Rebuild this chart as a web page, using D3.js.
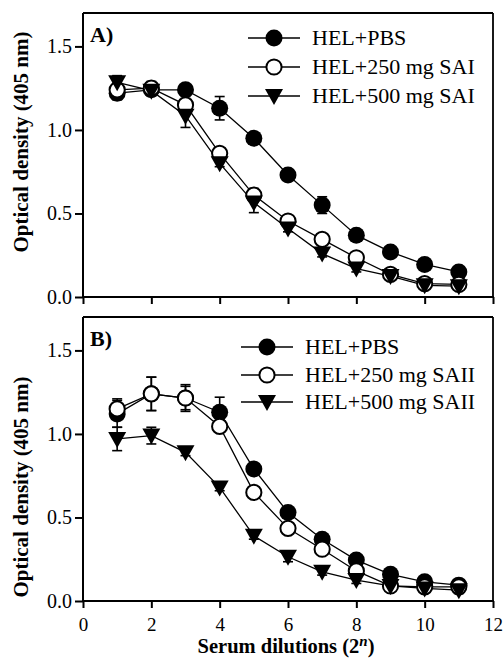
<!DOCTYPE html>
<html><head><meta charset="utf-8">
<script src="https://cdn.jsdelivr.net/npm/d3@7"></script>
<style>body{margin:0;background:#fff}svg{display:block}text{font-family:"Liberation Serif","Times New Roman",serif;fill:#000}</style>
</head><body><svg id="c" width="504" height="667"></svg>
<script>
const dilutions = [1,2,3,4,5,6,7,8,9,10,11];
const xTicks = [0,2,4,6,8,10,12];
const yTicks = [0.0,0.5,1.0,1.5];

const labelsA = ["HEL+PBS","HEL+250 mg SAI","HEL+500 mg SAI"];
const pbsA   = [1.22,1.24,1.24,1.13,0.95,0.73,0.55,0.37,0.27,0.195,0.15];
const sai250 = [1.24,1.25,1.15,0.86,0.61,0.455,0.345,0.235,0.135,0.08,0.075];
const sai500 = [1.285,1.235,1.085,0.80,0.565,0.41,0.26,0.17,0.125,0.07,0.065];
const errPbsA   = [0.04,0.03,0.02,0.07,0.02,0.02,0.05,0.02,0.02,0.02,0.02];
const errSai250 = [0.04,0.04,0.05,0.02,0.04,0.02,0.02,0.02,0.02,0.02,0.02];
const errSai500 = [0.04,0.03,0.07,0.02,0.06,0.02,0.02,0.02,0.02,0.02,0.02];

const labelsB = ["HEL+PBS","HEL+250 mg SAII","HEL+500 mg SAII"];
const pbsB    = [1.12,1.24,1.215,1.13,0.79,0.53,0.37,0.245,0.16,0.115,0.095];
const saii250 = [1.15,1.24,1.215,1.045,0.65,0.435,0.31,0.18,0.09,0.085,0.085];
const saii500 = [0.97,0.99,0.89,0.68,0.39,0.265,0.175,0.125,0.09,0.075,0.065];
const errPbsB    = [0.08,0.10,0.07,0.09,0.02,0.03,0.02,0.02,0.02,0.02,0.02];
const errSaii250 = [0.06,0.10,0.08,0.03,0.03,0.02,0.02,0.02,0.02,0.02,0.02];
const errSaii500 = [0.07,0.05,0.02,0.02,0.02,0.03,0.02,0.02,0.02,0.02,0.02];

const svg = d3.select("#c");
const L = 83, R = 493;
const x = d3.scaleLinear().domain([0,12]).range([L,R]);
const FONT = "Liberation Serif";

function panel(top, bottom, tag, labels, series, errs, legX, legY, showX, titleY){
  const y = d3.scaleLinear().domain([0,1.7]).range([bottom, top]);
  const g = svg.append("g");
  g.append("line").attr("x1",L).attr("x2",R).attr("y1",top).attr("y2",top).attr("stroke","#000").attr("stroke-width",1.8);
  g.append("line").attr("x1",R).attr("x2",R).attr("y1",top).attr("y2",bottom).attr("stroke","#000").attr("stroke-width",1.8);
  const ya = g.append("g").attr("transform",`translate(${L},0)`)
    .call(d3.axisLeft(y).tickValues(yTicks).tickFormat(d3.format(".1f")).tickSize(8).tickPadding(3));
  const xa = g.append("g").attr("transform",`translate(0,${bottom})`)
    .call(d3.axisBottom(x).tickValues(xTicks).tickSize(7).tickPadding(9).tickFormat(showX? d3.format("d") : ""));
  [ya,xa].forEach(a=>{
    a.attr("font-family",FONT);
    a.select(".domain").remove();
    a.selectAll(".tick line").attr("stroke-width",2);
  });
  ya.selectAll("text").attr("font-size",20).style("font-family",FONT);
  xa.selectAll("text").attr("font-size",19).attr("dy",null).attr("y",null).attr("transform",null)
    .attr("y",30).style("font-family",FONT);
  g.append("line").attr("x1",L).attr("x2",L).attr("y1",top).attr("y2",bottom+1).attr("stroke","#000").attr("stroke-width",2);
  g.append("line").attr("x1",L-1).attr("x2",R+1).attr("y1",bottom).attr("y2",bottom).attr("stroke","#000").attr("stroke-width",2);

  const line = d3.line().x((d,i)=>x(dilutions[i])).y(d=>y(d));
  const styles = ["fill","open","tri"];
  series.forEach(s=>{
    g.append("path").attr("d",line(s)).attr("fill","none").attr("stroke","#000").attr("stroke-width",1.3);
  });
  series.forEach((s,k)=>{
    s.forEach((v,i)=>{
      const cx = x(dilutions[i]), e = errs[k][i];
      const y1 = y(v+e), y2 = y(v-e);
      g.append("line").attr("x1",cx).attr("x2",cx).attr("y1",y1).attr("y2",y2).attr("stroke","#000").attr("stroke-width",1.6);
      [y1,y2].forEach(yy=>g.append("line").attr("x1",cx-5).attr("x2",cx+5).attr("y1",yy).attr("y2",yy).attr("stroke","#000").attr("stroke-width",1.6));
    });
  });
  function marker(sel, kind, cx, cy){
    if(kind==="fill") sel.append("circle").attr("cx",cx).attr("cy",cy).attr("r",8.5).attr("fill","#000");
    else if(kind==="open") sel.append("circle").attr("cx",cx).attr("cy",cy).attr("r",7.6).attr("fill","#fff").attr("stroke","#000").attr("stroke-width",2);
    else sel.append("path").attr("d",`M${cx-9},${cy-7}L${cx+9},${cy-7}L${cx},${cy+9}Z`).attr("fill","#000");
  }
  series.forEach((s,k)=>{
    s.forEach((v,i)=>marker(g, styles[k], x(dilutions[i]), y(v)));
  });
  labels.forEach((lab,k)=>{
    const ly = legY[k];
    g.append("line").attr("x1",legX).attr("x2",legX+52).attr("y1",ly).attr("y2",ly).attr("stroke","#000").attr("stroke-width",1.3);
    marker(g, styles[k], legX+26, ly);
    g.append("text").attr("x",legX+64).attr("y",ly+7).attr("font-size",22).text(lab);
  });
  g.append("text").attr("x",90).attr("y",top+29).attr("font-size",22).attr("font-weight","bold").text(tag);
  g.append("text").attr("transform",`translate(27.5,${titleY}) rotate(-90)`).attr("text-anchor","middle")
    .attr("font-size",21).attr("font-weight","bold").text("Optical density (405 nm)");
}

panel(13, 297, "A)", labelsA, [pbsA,sai250,sai500], [errPbsA,errSai250,errSai500], 248, [38,67,96], false, 142);
panel(317, 601, "B)", labelsB, [pbsB,saii250,saii500], [errPbsB,errSaii250,errSaii500], 241, [347,375,402], true, 487);

const t = svg.append("text").attr("x",286).attr("y",653).attr("text-anchor","middle").attr("font-size",20.5).attr("font-weight","bold");
t.append("tspan").text("Serum dilutions (2");
t.append("tspan").attr("dy",-7).attr("font-size",15).attr("font-style","italic").text("n");
t.append("tspan").attr("dy",7).text(")");
</script></body></html>
